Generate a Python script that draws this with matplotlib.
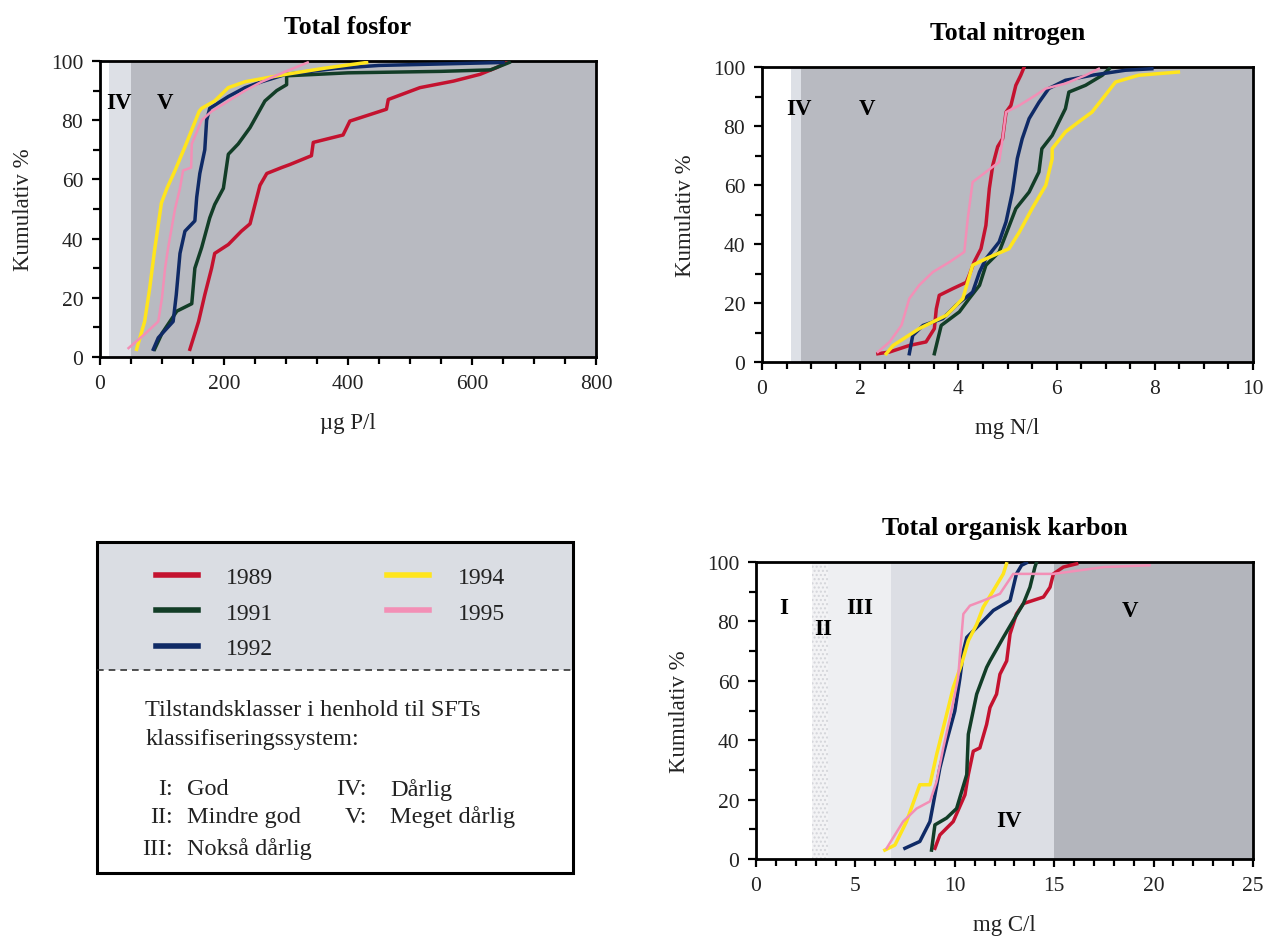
import matplotlib.pyplot as plt
from matplotlib.patches import Rectangle
from matplotlib.ticker import MultipleLocator

plt.rcParams['font.family'] = ['Liberation Serif', 'DejaVu Serif']

# Data (lest av fra figuren)
years = ['1989', '1991', '1992', '1994', '1995']
year_colors = ['#c4122f', '#123d27', '#0f2a66', '#ffe51c', '#f38fb6']

# Total fosfor (µg P/l)
tp_x_1989 = [145, 159, 169, 180, 185, 207, 228, 242, 250, 258, 269, 293, 306, 341, 344, 392, 403, 462, 465, 516, 570, 613, 640, 656]
tp_y_1989 = [2.6, 12, 21, 30, 35, 38, 42.5, 45, 51.5, 58, 62, 64, 65, 68, 72.5, 75, 79.7, 83.7, 87, 91, 93.2, 95.5, 97.8, 99.5]
tp_x_1991 = [88, 100, 124, 148, 153, 164, 177, 185, 199, 207, 223, 242, 266, 285, 301, 301, 400, 550, 630, 660]
tp_y_1991 = [2.6, 8, 15.5, 18, 30, 37, 47, 51.5, 57, 68.5, 72, 77.5, 86.5, 90, 92, 95, 96, 96.5, 97, 99.5]
tp_x_1992 = [86, 94, 118, 123, 129, 137, 153, 156, 161, 169, 172, 177, 207, 234, 261, 300, 380, 450, 650]
tp_y_1992 = [2.6, 6.5, 12, 21, 35, 42.5, 46, 54, 62, 70, 80, 84, 88, 91, 93, 95.5, 97.5, 98.5, 99.5]
tp_x_1994 = [59, 72, 80, 88, 99, 108, 121, 137, 160, 164, 185, 207, 234, 300, 360, 430]
tp_y_1994 = [2.6, 12, 23, 36, 52, 57, 63, 71, 83, 84, 86.5, 91, 93, 95.5, 97.5, 99.5]
tp_x_1995 = [46, 72, 94, 100, 105, 110, 121, 129, 134, 147, 148, 164, 180, 207, 234, 261, 300, 335]
tp_y_1995 = [3, 7.7, 12, 20, 30, 37, 50, 57, 63, 64, 72, 80, 83, 86.5, 90, 93, 96.5, 99.5]

# Total nitrogen (mg N/l)
tn_x_1989 = [2.36, 2.6, 3.0, 3.34, 3.51, 3.55, 3.61, 3.89, 4.16, 4.22, 4.32, 4.46, 4.56, 4.63, 4.7, 4.8, 4.9, 4.97, 5.07, 5.17, 5.27, 5.34]
tn_y_1989 = [2.8, 3.4, 5.6, 6.8, 11.3, 18, 22.6, 24.9, 27, 29.4, 33.9, 38.4, 46.3, 58.8, 66.7, 73, 75.7, 84.7, 87, 93.8, 97.2, 100]
tn_x_1991 = [3.51, 3.65, 4.02, 4.22, 4.43, 4.56, 4.83, 5.17, 5.44, 5.64, 5.7, 5.91, 6.18, 6.25, 6.59, 6.93, 7.07]
tn_y_1991 = [2.8, 12.4, 17, 21.5, 26, 32.8, 37.3, 52, 57.6, 64.4, 72.3, 76.8, 85.9, 91.5, 93.8, 97.2, 99.4]
tn_x_1992 = [3.0, 3.07, 3.28, 3.68, 3.95, 4.29, 4.43, 4.56, 4.83, 4.97, 5.1, 5.2, 5.3, 5.44, 5.64, 5.84, 6.18, 6.72, 7.4, 7.94]
tn_y_1992 = [2.8, 9, 12.4, 14.7, 19.2, 23.7, 30.5, 35, 40.7, 47.5, 57.6, 69, 75.7, 82.5, 88, 92.7, 95.5, 97.2, 98.9, 99.4]
tn_x_1994 = [2.53, 2.67, 3.2, 3.75, 4.09, 4.29, 4.56, 5.03, 5.24, 5.5, 5.78, 5.91, 5.91, 6.18, 6.45, 6.72, 6.99, 7.2, 7.67, 8.48]
tn_y_1994 = [2.8, 5.6, 11.3, 15.8, 21.5, 32.8, 35, 38.4, 44, 52, 59.9, 68.9, 72.3, 78, 81.4, 84.7, 90.4, 94.9, 97.2, 98.3]
tn_x_1995 = [2.36, 2.6, 2.84, 3.0, 3.2, 3.48, 3.82, 4.12, 4.19, 4.29, 4.56, 4.83, 4.9, 4.97, 5.24, 5.57, 5.78, 6.18, 6.59, 6.86]
tn_y_1995 = [3.4, 6.8, 12.4, 21.5, 26, 30.5, 33.9, 37.3, 48.6, 61, 64.4, 67.8, 75.7, 84.7, 87, 90.4, 92.7, 94.4, 97.2, 99.4]

# Total organisk karbon (mg C/l)
toc_x_1989 = [9.0, 9.25, 9.92, 10.51, 10.68, 10.93, 11.26, 11.6, 11.77, 12.1, 12.27, 12.61, 12.78, 13.1, 13.45, 14.46, 14.79, 14.96, 15.46, 16.13]
toc_y_1989 = [3.6, 8.1, 12.6, 21.6, 28.4, 36.3, 37.4, 45.3, 51, 55.5, 62.2, 66.7, 75.8, 82.5, 86, 88.2, 91.5, 96, 98.3, 99.4]
toc_x_1991 = [8.83, 9.0, 9.59, 10.09, 10.6, 10.68, 11.1, 11.6, 11.77, 12.44, 12.94, 13.45, 13.78, 14.03, 14.1]
toc_y_1991 = [3, 11.5, 13.8, 17, 28.4, 42, 55.5, 64.5, 66.7, 74.6, 80.3, 86, 91.5, 98.3, 99.7]
toc_x_1992 = [7.49, 8.24, 8.75, 9.0, 9.25, 9.59, 10.0, 10.26, 10.43, 10.6, 11.26, 11.94, 12.78, 12.94, 13.1, 13.36, 13.6]
toc_y_1992 = [3.6, 5.9, 12.6, 21.6, 30.7, 39.7, 49.8, 61, 70, 74.6, 79, 83.7, 87, 91.5, 96, 98.9, 99.7]
toc_x_1994 = [6.48, 6.99, 7.57, 8.24, 8.75, 9.08, 9.59, 9.92, 10.34, 10.68, 11.1, 11.43, 11.94, 12.44, 12.6]
toc_y_1994 = [3, 4.7, 12.6, 25, 25, 35, 48.7, 57.7, 65.6, 73.5, 79, 84.8, 90.4, 96, 99.4]
toc_x_1995 = [6.57, 7.4, 8.08, 8.75, 9.08, 9.42, 9.76, 10.17, 10.26, 10.43, 10.76, 11.43, 12.27, 12.94, 14.96, 17.5, 19.8]
toc_y_1995 = [3.6, 12.6, 17, 19.4, 26, 37.4, 47.6, 61, 69, 82.5, 85.3, 87, 89.3, 96, 96, 98.3, 98.9]

# Klassegrenser brukt som bakgrunn
tp_limits = [15, 50]
tn_limits = [0.6, 0.8]
toc_limits = [2.8, 3.6, 6.8, 15]

class_codes = ['I:', 'II:', 'III:', 'IV:', 'V:']
class_names = ['God', 'Mindre god', 'Nokså dårlig', 'Dårlig', 'Meget dårlig']

W, H = 1265, 937
fig = plt.figure(figsize=(W / 100, H / 100), dpi=100)
fig.patch.set_facecolor('white')

txt_col = '#222222'
c_light = '#dde0e6'
c_dark = '#b8bac1'


def px_axes(x0, x1, y0, y1):
    return fig.add_axes([x0 / W, 1 - y1 / H, (x1 - x0) / W, (y1 - y0) / H])


def style(ax, xmax, xmaj, xmin, title, xlabel, tpad, lpad):
    ax.set_xlim(0, xmax)
    ax.set_ylim(0, 100)
    ax.xaxis.set_major_locator(MultipleLocator(xmaj))
    ax.xaxis.set_minor_locator(MultipleLocator(xmin))
    ax.yaxis.set_major_locator(MultipleLocator(20))
    ax.yaxis.set_minor_locator(MultipleLocator(10))
    ax.tick_params(which='both', direction='out', width=1.6, colors='black',
                   labelcolor=txt_col, labelsize=15.5, top=False, right=False)
    ax.tick_params(which='major', length=6, pad=6)
    ax.tick_params(which='minor', length=5)
    for s in ax.spines.values():
        s.set_linewidth(2)
    ax.set_title(title, fontsize=18.5, fontweight='bold', pad=tpad, color='black')
    ax.set_xlabel(xlabel, fontsize=16.5, labelpad=lpad, color=txt_col)
    ax.set_ylabel('Kumulativ %', fontsize=16.5, labelpad=12, color=txt_col)


def draw(ax, xs, ys):
    lines = []
    for x, y, c, yr in zip(xs, ys, year_colors, years):
        lw = 1.8 if yr == '1995' else 2.5
        ln, = ax.plot(x, y, color=c, lw=lw, label=yr, zorder=3)
        lines.append(ln)
    return lines


# --- Total fosfor ---
ax1 = px_axes(100, 596, 62, 358)
ax1.axvspan(tp_limits[0], tp_limits[1], color=c_light, lw=0)
ax1.axvspan(tp_limits[1], 800, color=c_dark, lw=0)
handles = draw(ax1, [tp_x_1989, tp_x_1991, tp_x_1992, tp_x_1994, tp_x_1995],
               [tp_y_1989, tp_y_1991, tp_y_1992, tp_y_1994, tp_y_1995])
style(ax1, 800, 200, 50, 'Total fosfor', 'µg P/l', 20, 14)
ax1.text(30, 86, 'IV', fontsize=16.5, fontweight='bold', ha='center', va='center')
ax1.text(105, 86, 'V', fontsize=16.5, fontweight='bold', ha='center', va='center')

# --- Total nitrogen ---
ax2 = px_axes(762, 1253, 68, 363)
ax2.axvspan(tn_limits[0], tn_limits[1], color=c_light, lw=0)
ax2.axvspan(tn_limits[1], 10, color=c_dark, lw=0)
draw(ax2, [tn_x_1989, tn_x_1991, tn_x_1992, tn_x_1994, tn_x_1995],
     [tn_y_1989, tn_y_1991, tn_y_1992, tn_y_1994, tn_y_1995])
style(ax2, 10, 2, 0.5, 'Total nitrogen', 'mg N/l', 20, 14)
ax2.text(0.75, 86, 'IV', fontsize=16.5, fontweight='bold', ha='center', va='center')
ax2.text(2.13, 86, 'V', fontsize=16.5, fontweight='bold', ha='center', va='center')

# --- Total organisk karbon ---
ax3 = px_axes(756, 1253, 563, 860)
ax3.axvspan(toc_limits[0], toc_limits[1], facecolor='#f3f3f5', edgecolor='#d4d5da',
            hatch='....', lw=0)
ax3.axvspan(toc_limits[1], toc_limits[2], color='#eeeff2', lw=0)
ax3.axvspan(toc_limits[2], toc_limits[3], color='#dcdee4', lw=0)
ax3.axvspan(toc_limits[3], 25, color='#b3b5bc', lw=0)
draw(ax3, [toc_x_1989, toc_x_1991, toc_x_1992, toc_x_1994, toc_x_1995],
     [toc_y_1989, toc_y_1991, toc_y_1992, toc_y_1994, toc_y_1995])
style(ax3, 25, 5, 1, 'Total organisk karbon', 'mg C/l', 20, 14)
for lab, x, y in [('I', 1.4, 84.8), ('II', 3.4, 77.5), ('III', 5.2, 84.8),
                  ('IV', 12.7, 12.9), ('V', 18.8, 83.7)]:
    ax3.text(x, y, lab, fontsize=16.5, fontweight='bold', ha='center', va='center')

# --- Tegnforklaring ---
axl = px_axes(97, 573, 543, 874)
axl.set_xlim(0, 1)
axl.set_ylim(0, 1)
axl.axis('off')
axl.add_patch(Rectangle((0, 0.613), 1, 0.387, facecolor='#dadde3', edgecolor='none'))
axl.add_patch(Rectangle((0, 0), 1, 1, facecolor='none', edgecolor='black', lw=2.2,
                        clip_on=False))
axl.plot([0, 1], [0.613, 0.613], color='#333333', lw=1.2, ls=(0, (4, 3)))
leg = axl.legend(handles=handles, ncol=2, loc='upper left', bbox_to_anchor=(0.123, 0.925),
                 frameon=False, fontsize=17, handlelength=1.8, handletextpad=1.2,
                 columnspacing=4.8, labelspacing=0.58, borderpad=0, borderaxespad=0)
for ln in leg.get_lines():
    ln.set_linewidth(4)
for t in leg.get_texts():
    t.set_color(txt_col)

axl.text(0.101, 0.493, 'Tilstandsklasser i henhold til SFTs', fontsize=17.5,
         color=txt_col, va='center')
axl.text(0.101, 0.406, 'klassifiseringssystem:', fontsize=17.5, color=txt_col, va='center')
row_y = [0.255, 0.171, 0.075]
for i, (code, name) in enumerate(zip(class_codes, class_names)):
    col = 0 if i < 3 else 1
    y = row_y[i] if i < 3 else row_y[i - 3]
    xc = 0.160 if col == 0 else 0.567
    xn = 0.189 if col == 0 else 0.616
    axl.text(xc, y, code, fontsize=17.5, color=txt_col, ha='right', va='center')
    axl.text(xn, y, name, fontsize=17.5, color=txt_col, ha='left', va='center')

fig.savefig('out.png', dpi=100, facecolor='white')
